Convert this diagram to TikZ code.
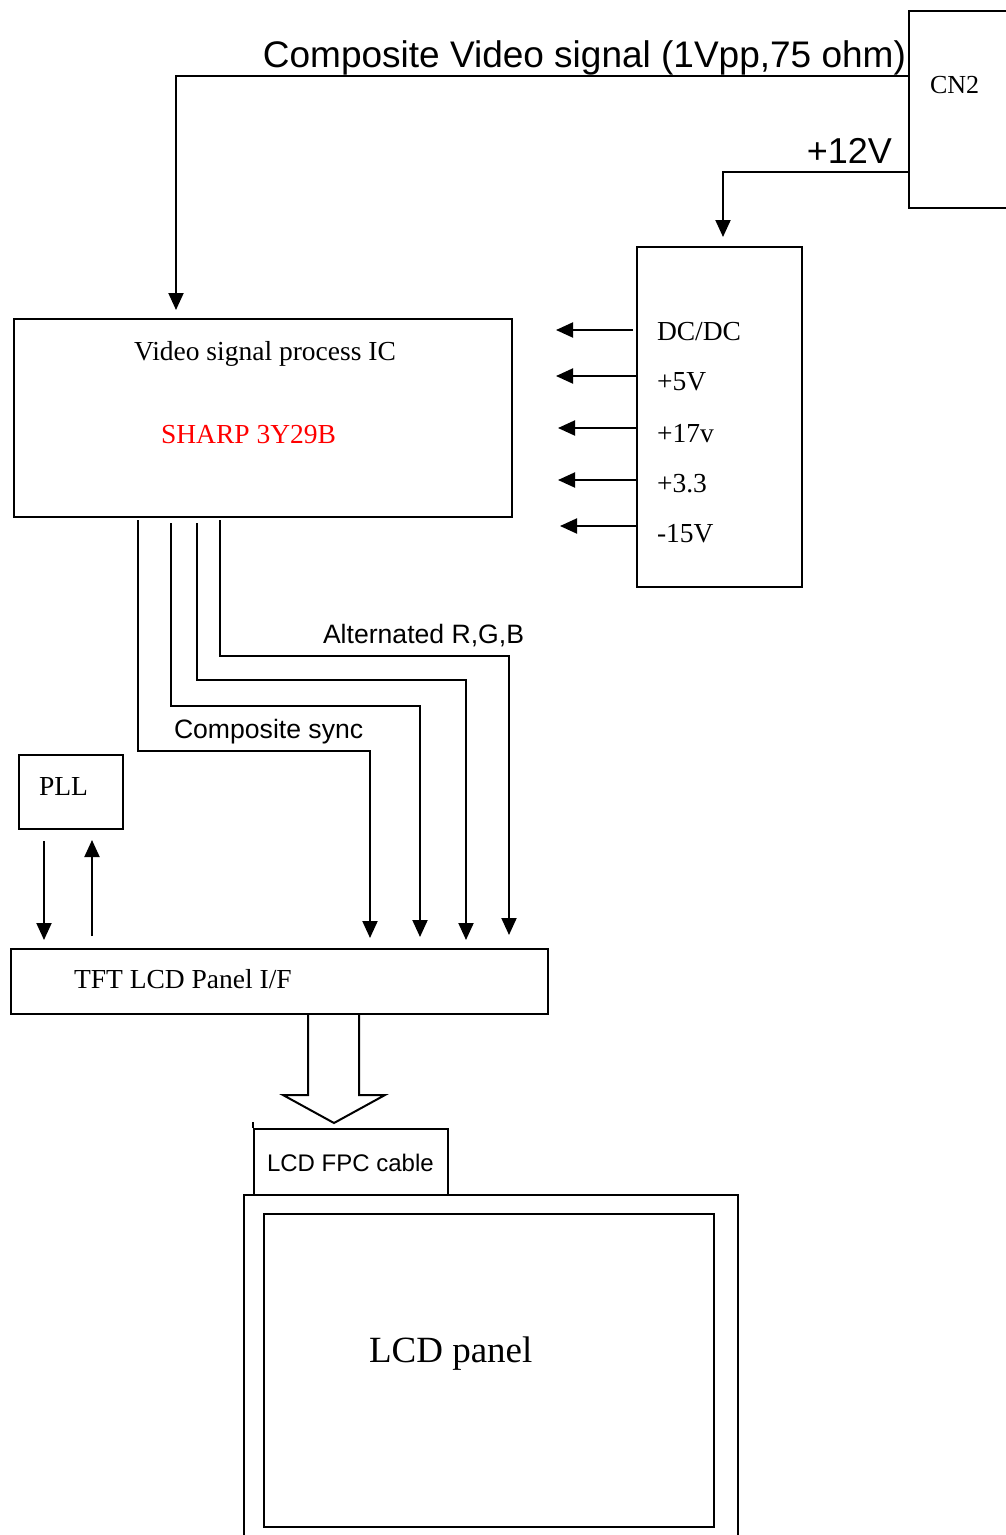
\documentclass[tikz,border=0pt]{standalone}
\usepackage{fontspec}
\setmainfont{Liberation Serif}
\setsansfont{Liberation Sans}
\usetikzlibrary{arrows.meta}
\begin{document}
\begin{tikzpicture}[x=1pt,y=-1pt, line width=2pt,
  box/.style={draw, line width=2pt, anchor=north west, inner sep=0pt},
  arr/.style={-{Triangle[length=17pt,width=15pt]}, line width=2pt},
  tms/.style={font=\fontsize{27.5}{33}\selectfont, inner sep=0pt},
  ars/.style={font=\sffamily\fontsize{26.6}{32}\selectfont, inner sep=0pt}]
\useasboundingbox (0,0) rectangle (1006,1535);
\fill[white] (0,0) rectangle (1006,1535);

% boxes
\node[box, minimum width=110, minimum height=197] (cn2) at (908,10) {};
\node[box, minimum width=498, minimum height=198] (ic) at (13,318) {};
\node[box, minimum width=165, minimum height=340] (dc) at (636,246) {};
\node[box, minimum width=104, minimum height=74] (pll) at (18,754) {};
\node[box, minimum width=537, minimum height=65] (tft) at (10,948) {};
\node[box, minimum width=194, minimum height=66] (fpc) at (253,1128) {};
\node[box, minimum width=494, minimum height=360] (outer) at (243,1194) {};
\node[box, minimum width=450, minimum height=313] (inner) at (263,1213) {};

% texts
\node[tms, anchor=base west, font=\fontsize{26}{31}\selectfont] (cn2t) at (929,93) {CN2};
\node[anchor=base east, inner sep=0pt, font=\sffamily\fontsize{37}{44}\selectfont] (cvt) at (907,67) {Composite Video signal (1Vpp,75 ohm)};
\node[anchor=base east, inner sep=0pt, font=\sffamily\fontsize{36}{43}\selectfont] (v12) at (893,163) {+12V};
\node[tms, anchor=base] (ict) at (265,360) {Video signal process IC};
\node[tms, anchor=base west, text=red] (sharp) at (160,443) {SHARP 3Y29B};
\node[tms, anchor=base west] (d1) at (656,340) {DC/DC};
\node[tms, anchor=base west] (d2) at (656,390) {+5V};
\node[tms, anchor=base west] (d3) at (656,442) {+17v};
\node[tms, anchor=base west] (d4) at (656,492) {+3.3};
\node[tms, anchor=base west] (d5) at (656,542) {-15V};
\node[ars, anchor=base west] (rgb) at (322,643) {Alternated R,G,B};
\node[ars, anchor=base west] (csync) at (173,738) {Composite sync};
\node[tms, anchor=base west] (pllt) at (38,795) {PLL};
\node[tms, anchor=base west] (tftt) at (73,988) {TFT LCD Panel I/F};
\node[anchor=base west, inner sep=0pt, font=\sffamily\fontsize{24}{29}\selectfont] (fpct) at (266,1171) {LCD FPC cable};
\node[anchor=base west, inner sep=0pt, font=\fontsize{37}{44}\selectfont] (lcdt) at (368,1362) {LCD panel};

% connectors from CN2
\coordinate (cvtip) at (176,310);
\coordinate (v12tip) at (723,237);
\draw[arr] (cn2.west |- 0,76) -| (cvtip);
\draw[arr] (cn2.west |- 0,172) -| (v12tip);

% DC/DC outputs
\foreach \yy/\xs/\xe in {330/633/556, 376/636/556, 428/636/558, 480/636/558, 526/636/560}{
  \draw[arr] (\xs,\yy) -- (\xe,\yy);
}

% signal lines IC -> TFT
\draw[arr] (138,520) -- (138,751) -- (370,751) -- (370,938);
\draw[arr] (171,523) |- (420,706) -- (420,937);
\draw[arr] (197,523) |- (466,680) -- (466,940);
\draw[arr] (220,520) |- (509,656) -- (509,935);

% PLL arrows
\draw[arr] (44,841) -- (44,940);
\draw[arr] (92,936) -- (92,840);

% hollow arrow TFT -> FPC
\draw[line join=miter] (308,1013) -- (308,1095) -- (283,1095) -- (334,1123) -- (385,1095) -- (359,1095) -- (359,1013);
\draw (253,1122) -- (253,1128);
\end{tikzpicture}
\end{document}
